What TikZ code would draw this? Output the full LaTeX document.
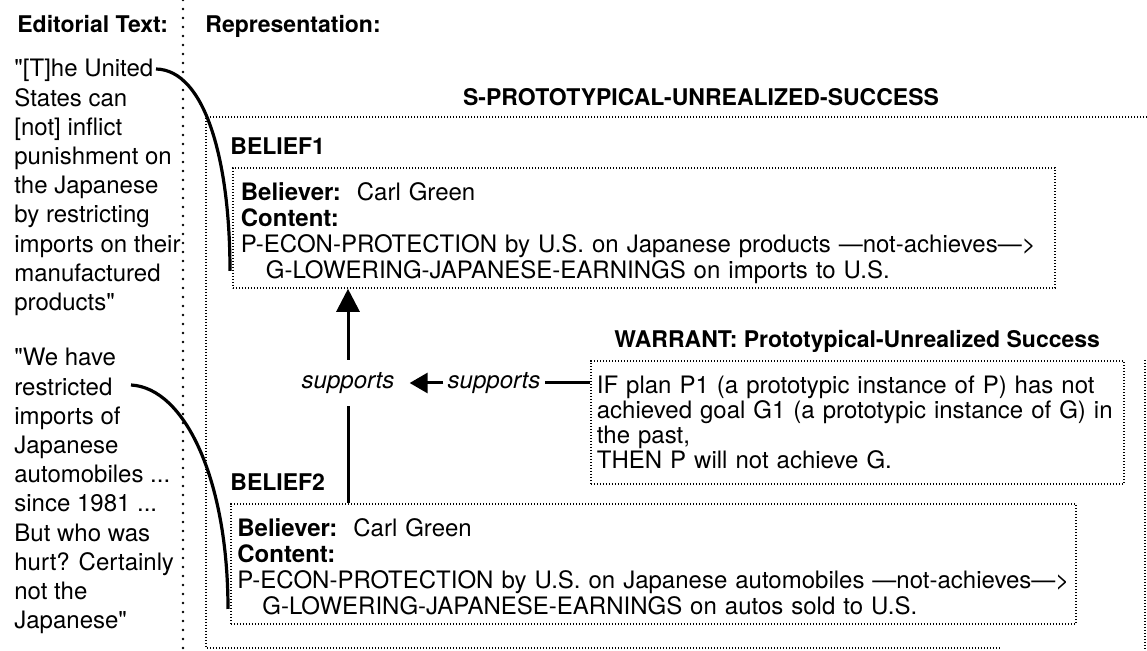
\documentclass[tikz,border=0pt]{standalone}
\usepackage{fontspec}
\setmainfont{TeX Gyre Heros}
\usetikzlibrary{arrows.meta}
\setlength{\parindent}{0pt}
\newcommand{\quotefont}{\fontsize{12}{14.6}\selectfont}
\newcommand{\slotfont}{\fontsize{12}{13}\selectfont}
\newcommand{\rulefont}{\fontsize{12}{12.5}\selectfont}
\newcommand{\headfont}{\fontsize{11.5}{13}\selectfont\bfseries}
\newcommand{\firstline}{\rule{0pt}{14.2pt}}
\newcommand{\lastline}{\rule[-2.6pt]{0pt}{2.6pt}}
\newcommand{\qm}{\textquotedbl}

\begin{document}
\begin{tikzpicture}[x=0.5pt, y=-0.5pt,
    dotframe/.style={draw, line width=0.9pt, dash pattern=on 0.6pt off 0.9pt},
    divider/.style={line width=1.4pt, line cap=round, dash pattern=on 0pt off 4.5pt},
    link/.style={line width=1.6pt},
    supportline/.style={line width=1.5pt},
    heading/.style={inner sep=0pt, font=\headfont, anchor=base west},
    quotetext/.style={inner sep=0pt, align=left, anchor=north west, font=\quotefont},
    slotbox/.style={dotframe, anchor=north west, align=left, font=\slotfont, inner ysep=0pt},
    supportlabel/.style={font=\quotefont\itshape, inner ysep=6.2pt}]
    \useasboundingbox (0,0) rectangle (1147,651);

    \draw[divider] (183,0) -- (183,651);
    \node[heading] (edhead) at (17,33) {Editorial Text:};
    \node[heading] (rephead) at (205,33) {Representation:};

    \node[quotetext] (quoteA) at (14,59) {\qm[T]he United\\States can\\{[}not] inflict\\punishment on\\the Japanese\\by restricting\\imports on their\\manufactured\\products\qm};
    \node[quotetext] (quoteB) at (14,348) {\qm We have\\restricted\\imports of\\Japanese\\automobiles ...\\since 1981 ...\\But who was\\hurt? Certainly\\not the\\Japanese\qm};

    \draw[dotframe] (1147,117) -- (206,117) -- (206,648) -- (1000,648);
    \draw[dotframe] (1145,360) -- (1145,651);
    \node[heading, anchor=base] (frametitle) at (701,106) {S-PROTOTYPICAL-UNREALIZED-SUCCESS};

    \node[heading] (labA) at (230,155) {BELIEF1};
    \node[slotbox, text width=403pt, inner xsep=4pt, minimum height=60pt] (beliefA) at (232,167) {\firstline\textbf{Believer:}\ \ Carl Green\\
        \textbf{Content:}\\
        \mbox{P-ECON-PROTECTION by U.S. on Japanese products ---not-achieves--->}\\
        \hspace*{12.5pt}G-LOWERING-JAPANESE-EARNINGS on imports to U.S.\lastline};

    \node[heading] (labW) at (614,348) {WARRANT: Prototypical-Unrealized Success};
    \node[slotbox, font=\rulefont, text width=260.5pt, inner xsep=3pt, minimum height=61.5pt] (warrant) at (590,360) {IF plan P1 (a prototypic instance of P) has not\\
        achieved goal G1 (a prototypic instance of G) in\\
        the past,\\
        THEN P will not achieve G.};

    \node[heading] (labB) at (230,491) {BELIEF2};
    \node[slotbox, text width=416pt, inner xsep=3.25pt, minimum height=60pt] (beliefB) at (230,503) {\firstline\textbf{Believer:}\ \ Carl Green\\
        \textbf{Content:}\\
        \mbox{P-ECON-PROTECTION by U.S. on Japanese automobiles ---not-achieves--->}\\
        \hspace*{12.5pt}G-LOWERING-JAPANESE-EARNINGS on autos sold to U.S.\lastline};

    \node[supportlabel, inner xsep=7.5pt] (supA) at (348,383) {supports};
    \node[supportlabel, inner xsep=2pt] (supB) at (494,383) {supports};
    \draw[supportline, -{Triangle[width=11.5pt, length=11.5pt]}] (supA.north) -- (supA.north |- beliefA.south);
    \draw[supportline] (supA.north |- beliefB.north) -- (supA.south);
    \draw[supportline, -{Triangle[width=10pt, length=9pt]}] (supB.west) -- (supA.east);
    \draw[supportline] (warrant.west |- supB.east) -- (supB.east);

    \coordinate (quoteAend) at (156,69);
    \coordinate (hookA) at (230,271);
    \coordinate (quoteBend) at (131,385);
    \coordinate (hookB) at (228,609);
    \draw[link] (quoteAend) .. controls (205,70) and (230,160) .. (hookA);
    \draw[link] (quoteBend) .. controls (185,388) and (228,480) .. (hookB);
\end{tikzpicture}
\end{document}
